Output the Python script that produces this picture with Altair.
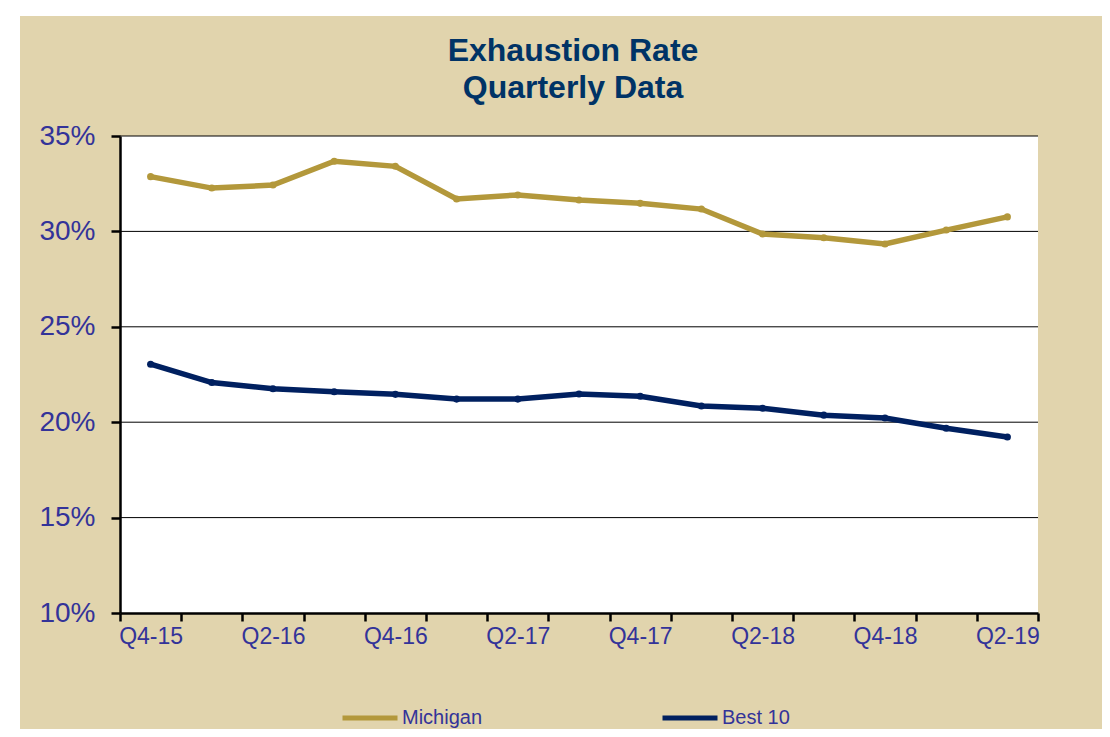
import altair as alt
import pandas as pd

quarters = ["Q4-15", "Q1-16", "Q2-16", "Q3-16", "Q4-16", "Q1-17", "Q2-17", "Q3-17",
            "Q4-17", "Q1-18", "Q2-18", "Q3-18", "Q4-18", "Q1-19", "Q2-19"]
michigan = [32.87, 32.27, 32.43, 33.68, 33.41, 31.70, 31.91, 31.65, 31.47, 31.17,
            29.86, 29.67, 29.34, 30.07, 30.76]
best10 = [23.04, 22.08, 21.75, 21.60, 21.46, 21.21, 21.21, 21.48, 21.36, 20.85,
          20.73, 20.37, 20.22, 19.68, 19.22]
series_names = ["Michigan", "Best 10"]
series_colors = ["#B3983B", "#002060"]
y_ticks = [10, 15, 20, 25, 30, 35]
grid_values = [15, 20, 25, 30, 35]
title_lines = ["Exhaustion Rate", "Quarterly Data"]

W, H = 918, 477
FONT = "Liberation Sans"
LABEL = "#333399"

rows = []
for q, m, b in zip(quarters, michigan, best10):
    rows.append({"quarter": q, "series": "Michigan", "value": m})
    rows.append({"quarter": q, "series": "Best 10", "value": b})
df = pd.DataFrame(rows)

yscale = alt.Scale(domain=[10, 35], nice=False, zero=False)
one = pd.DataFrame({"a": [0]})

bg = alt.Chart(one).mark_rect(color="#E1D4AD").encode(
    x=alt.value(-100), x2=alt.value(990), y=alt.value(-120), y2=alt.value(620)
)
plot_bg = alt.Chart(one).mark_rect(color="white").encode(
    x=alt.value(0), x2=alt.value(W), y=alt.value(0), y2=alt.value(H)
)
title1 = alt.Chart(one).mark_text(
    font=FONT, fontSize=32, fontWeight="bold", color="#003366",
    align="center", baseline="alphabetic",
).encode(x=alt.value(453), y=alt.value(-75), text=alt.value(title_lines[0]))
title2 = alt.Chart(one).mark_text(
    font=FONT, fontSize=32, fontWeight="bold", color="#003366",
    align="center", baseline="alphabetic",
).encode(x=alt.value(453), y=alt.value(-38), text=alt.value(title_lines[1]))

grid = alt.Chart(pd.DataFrame({"value": grid_values})).mark_rule(
    color="#000000", strokeWidth=1
).encode(
    y=alt.Y("value:Q", scale=yscale, title=None),
    x=alt.value(0), x2=alt.value(W),
)

lines = alt.Chart(df).mark_line(
    strokeWidth=5.5,
    point=alt.OverlayMarkDef(size=50, filled=True, opacity=1),
).encode(
    x=alt.X(
        "quarter:N",
        sort=quarters,
        bandPosition=0.5,
        scale=alt.Scale(type="band", paddingInner=0, paddingOuter=0),
        axis=alt.Axis(
            title=None,
            tickBand="extent",
            labelAngle=0,
            labelOverlap=False,
            labelExpr="(substring(datum.label,0,2)=='Q4' || substring(datum.label,0,2)=='Q2') ? datum.label : ''",
            labelFontSize=23,
            labelColor=LABEL,
            labelFont=FONT,
            labelPadding=4,
            tickSize=8,
            tickWidth=2.5,
            tickColor="#000000",
            domainColor="#000000",
            domainWidth=2.5,
            grid=False,
            zindex=1,
        ),
    ),
    y=alt.Y(
        "value:Q",
        scale=yscale,
        axis=alt.Axis(
            title=None,
            values=y_ticks,
            labelExpr="datum.value + '%'",
            labelFontSize=28,
            labelColor=LABEL,
            labelFont=FONT,
            labelPadding=16,
            tickSize=9,
            tickWidth=2.5,
            tickColor="#000000",
            domainColor="#000000",
            domainWidth=2.5,
            grid=False,
            zindex=1,
        ),
    ),
    color=alt.Color(
        "series:N",
        scale=alt.Scale(domain=series_names, range=series_colors),
        legend=alt.Legend(
            title=None,
            orient="none",
            legendX=220,
            legendY=552,
            direction="horizontal",
            symbolType="stroke",
            symbolSize=3025,
            symbolStrokeWidth=5,
            labelFontSize=20,
            labelFont=FONT,
            labelColor=LABEL,
            labelOffset=2,
            columnPadding=169,
            zindex=1,
        ),
    ),
)

chart = alt.layer(bg, plot_bg, title1, title2, grid, lines).properties(
    width=W,
    height=H,
    padding={"left": 112, "top": 128, "right": 64, "bottom": 116},
    autosize=alt.AutoSizeParams(type="none"),
).configure_view(stroke=None).configure(background="white")

chart.save("out.html", embed_options={"renderer": "svg", "actions": False})
